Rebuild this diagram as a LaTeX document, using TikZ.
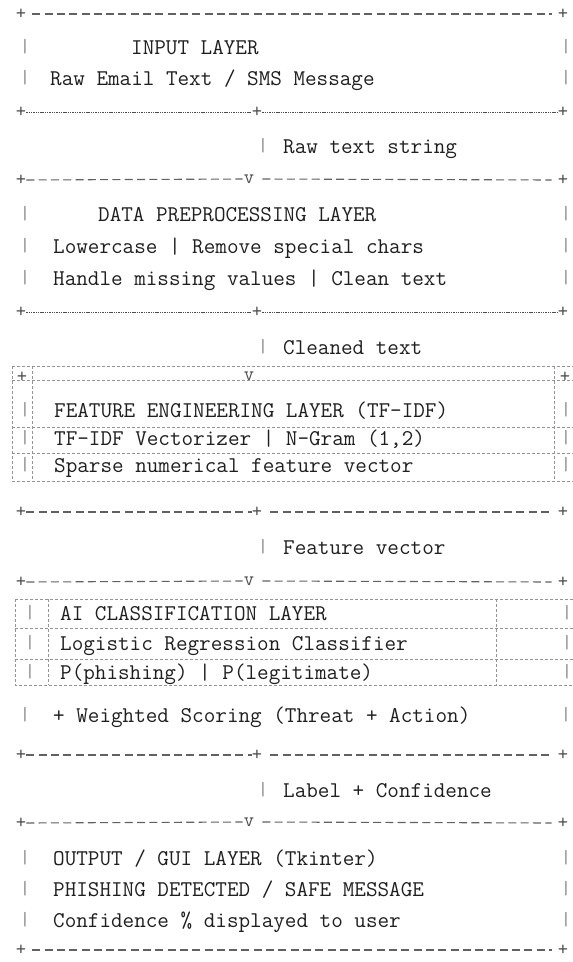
\documentclass[tikz,border=0pt]{standalone}
\usepackage{fontspec}
\begin{document}
\begin{tikzpicture}[x=1pt,y=-1pt,
  txt/.style={anchor=base west,inner sep=0pt,font=\ttfamily\fontsize{22.5}{22.5}\selectfont\addfontfeature{LetterSpace=2.4,FakeBold=0.6},text=black!88},
  bar/.style={anchor=center,inner sep=0pt,font=\ttfamily\fontsize{19}{19}\selectfont\addfontfeature{FakeBold=1.5},text=black!50},
  mk/.style={anchor=center,inner sep=0pt,font=\ttfamily\fontsize{20}{20}\selectfont,text=black!70},
  chdash/.style={draw=black!62,line width=1.1pt,dash pattern=on 8pt off 4.3pt},
  fine/.style={draw=black!70,line width=0.5pt,dash pattern=on 1.4pt off 0.9pt},
  grid/.style={draw=black!42,line width=0.7pt,dash pattern=on 3pt off 2pt}]
\useasboundingbox[fill=white] (0,0) rectangle (573,962);

% ---------- INPUT LAYER ----------
\node[mk] (a1) at (21,14) {+};
\node[mk] (a2) at (563,14) {+};
\draw[chdash] ([xshift=6pt]a1.east) -- ([xshift=-6pt]a2.west);
\foreach \y [count=\i] in {47,78} {
  \node[bar] (al\i) at (25,\y) {|};
  \node[bar] (ar\i) at (566,\y) {|};
}
\node[txt] (inl) at (131,54) {INPUT LAYER};
\node[txt] (inr) at (50,85) {Raw Email Text / SMS Message};
\node[mk] (b1) at (21,112) {+};
\node[mk] (b2) at (257,112) {+};
\node[mk] (b3) at (563,112) {+};
\draw[fine] (b1.east) -- (b2.west);
\draw[fine] (b2.east) -- (b3.west);

\node[bar] (c1) at (263,146) {|};
\node[txt] (c1t) at (283,153) {Raw text string};

% ---------- DATA PREPROCESSING ----------
\node[mk] (d1) at (21,180) {+};
\node[mk] (d2) at (249,179) {v};
\node[mk] (d3) at (563,180) {+};
\draw[chdash] (d1.east) -- ([xshift=-1pt]d2.west);
\draw[chdash] ([xshift=8pt]d2.east) -- ([xshift=-6pt]d3.west);
\foreach \y [count=\i] in {214,246,278} {
  \node[bar] (dl\i) at (25,\y) {|};
  \node[bar] (dr\i) at (566,\y) {|};
}
\node[txt] (dpt) at (98,221) {DATA PREPROCESSING LAYER};
\node[txt] (dp1) at (53,253) {Lowercase | Remove special chars};
\node[txt] (dp2) at (53,285) {Handle missing values | Clean text};
\node[mk] (e1) at (21,312) {+};
\node[mk] (e2) at (257,312) {+};
\node[mk] (e3) at (563,312) {+};
\draw[fine] (e1.east) -- (e2.west);
\draw[fine] (e2.east) -- (e3.west);

\node[bar] (c2) at (263,347) {|};
\node[txt] (c2t) at (283,354) {Cleaned text};

% ---------- FEATURE ENGINEERING (table) ----------
\draw[grid] (12,366) rectangle (576,481);
\draw[grid] (32,366) -- (32,481);
\draw[grid] (554,366) -- (554,481);
\draw[grid] (12,380) -- (576,380);
\draw[grid] (12,427) -- (576,427);
\draw[grid] (12,453) -- (576,453);
\node[mk] (f1) at (22,377) {+};
\node[mk] (f2) at (249,376) {v};
\node[mk] (f3) at (565,377) {+};
\foreach \y [count=\i] in {410,438,465} {
  \node[bar] (fl\i) at (25,\y) {|};
  \node[bar] (fr\i) at (566,\y) {|};
}
\node[txt] (fet) at (54,417) {FEATURE ENGINEERING LAYER (TF-IDF)};
\node[txt] (fe1) at (54,445) {TF-IDF Vectorizer | N-Gram (1,2)};
\node[txt] (fe2) at (54,472) {Sparse numerical feature vector};

\node[mk] (g1) at (21,512) {+};
\node[mk] (g2) at (257,512) {+};
\node[mk] (g3) at (563,512) {+};
\draw[chdash] (g1.east) -- (g2.west);
\draw[chdash] ([xshift=8pt]g2.east) -- ([xshift=-6pt]g3.west);

\node[bar] (c3) at (263,547) {|};
\node[txt] (c3t) at (283,554) {Feature vector};

% ---------- AI CLASSIFICATION ----------
\node[mk] (h1) at (21,582) {+};
\node[mk] (h2) at (249,581) {v};
\node[mk] (h3) at (563,582) {+};
\draw[chdash] (h1.east) -- ([xshift=-1pt]h2.west);
\draw[chdash] ([xshift=8pt]h2.east) -- ([xshift=-6pt]h3.west);

\draw[grid] (15,599) rectangle (578,685);
\draw[grid] (48,599) -- (48,685);
\draw[grid] (496,599) -- (496,685);
\draw[grid] (15,628) -- (578,628);
\draw[grid] (15,659) -- (578,659);
\foreach \y [count=\i] in {613,643,672} {
  \node[bar] (il\i) at (30,\y) {|};
  \node[bar] (ir\i) at (567,\y) {|};
}
\node[txt] (ait) at (60,620) {AI CLASSIFICATION LAYER};
\node[txt] (ai1) at (60,650) {Logistic Regression Classifier};
\node[txt] (ai2) at (60,679) {P(phishing) | P(legitimate)};

\node[bar] (wl) at (25,715) {|};
\node[bar] (wr) at (566,715) {|};
\node[txt] (ws) at (53,722) {+ Weighted Scoring (Threat + Action)};

\node[mk] (j1) at (21,755) {+};
\node[mk] (j2) at (257,755) {+};
\node[mk] (j3) at (563,755) {+};
\draw[chdash] (j1.east) -- (j2.west);
\draw[chdash] ([xshift=8pt]j2.east) -- ([xshift=-6pt]j3.west);

\node[bar] (c4) at (263,790) {|};
\node[txt] (c4t) at (283,797) {Label + Confidence};

% ---------- OUTPUT ----------
\node[mk] (k1) at (21,823) {+};
\node[mk] (k2) at (249,822) {v};
\node[mk] (k3) at (563,823) {+};
\draw[chdash] (k1.east) -- ([xshift=-1pt]k2.west);
\draw[chdash] ([xshift=8pt]k2.east) -- ([xshift=-6pt]k3.west);
\foreach \y [count=\i] in {858,889,920} {
  \node[bar] (ol\i) at (25,\y) {|};
  \node[bar] (or\i) at (566,\y) {|};
}
\node[txt] (ot) at (53,865) {OUTPUT / GUI LAYER (Tkinter)};
\node[txt] (o1) at (53,896) {PHISHING DETECTED / SAFE MESSAGE};
\node[txt] (o2) at (53,927) {Confidence \% displayed to user};

\node[mk] (m1) at (21,950) {+};
\node[mk] (m2) at (563,950) {+};
\draw[chdash] ([xshift=6pt]m1.east) -- ([xshift=-6pt]m2.west);
\end{tikzpicture}
\end{document}
